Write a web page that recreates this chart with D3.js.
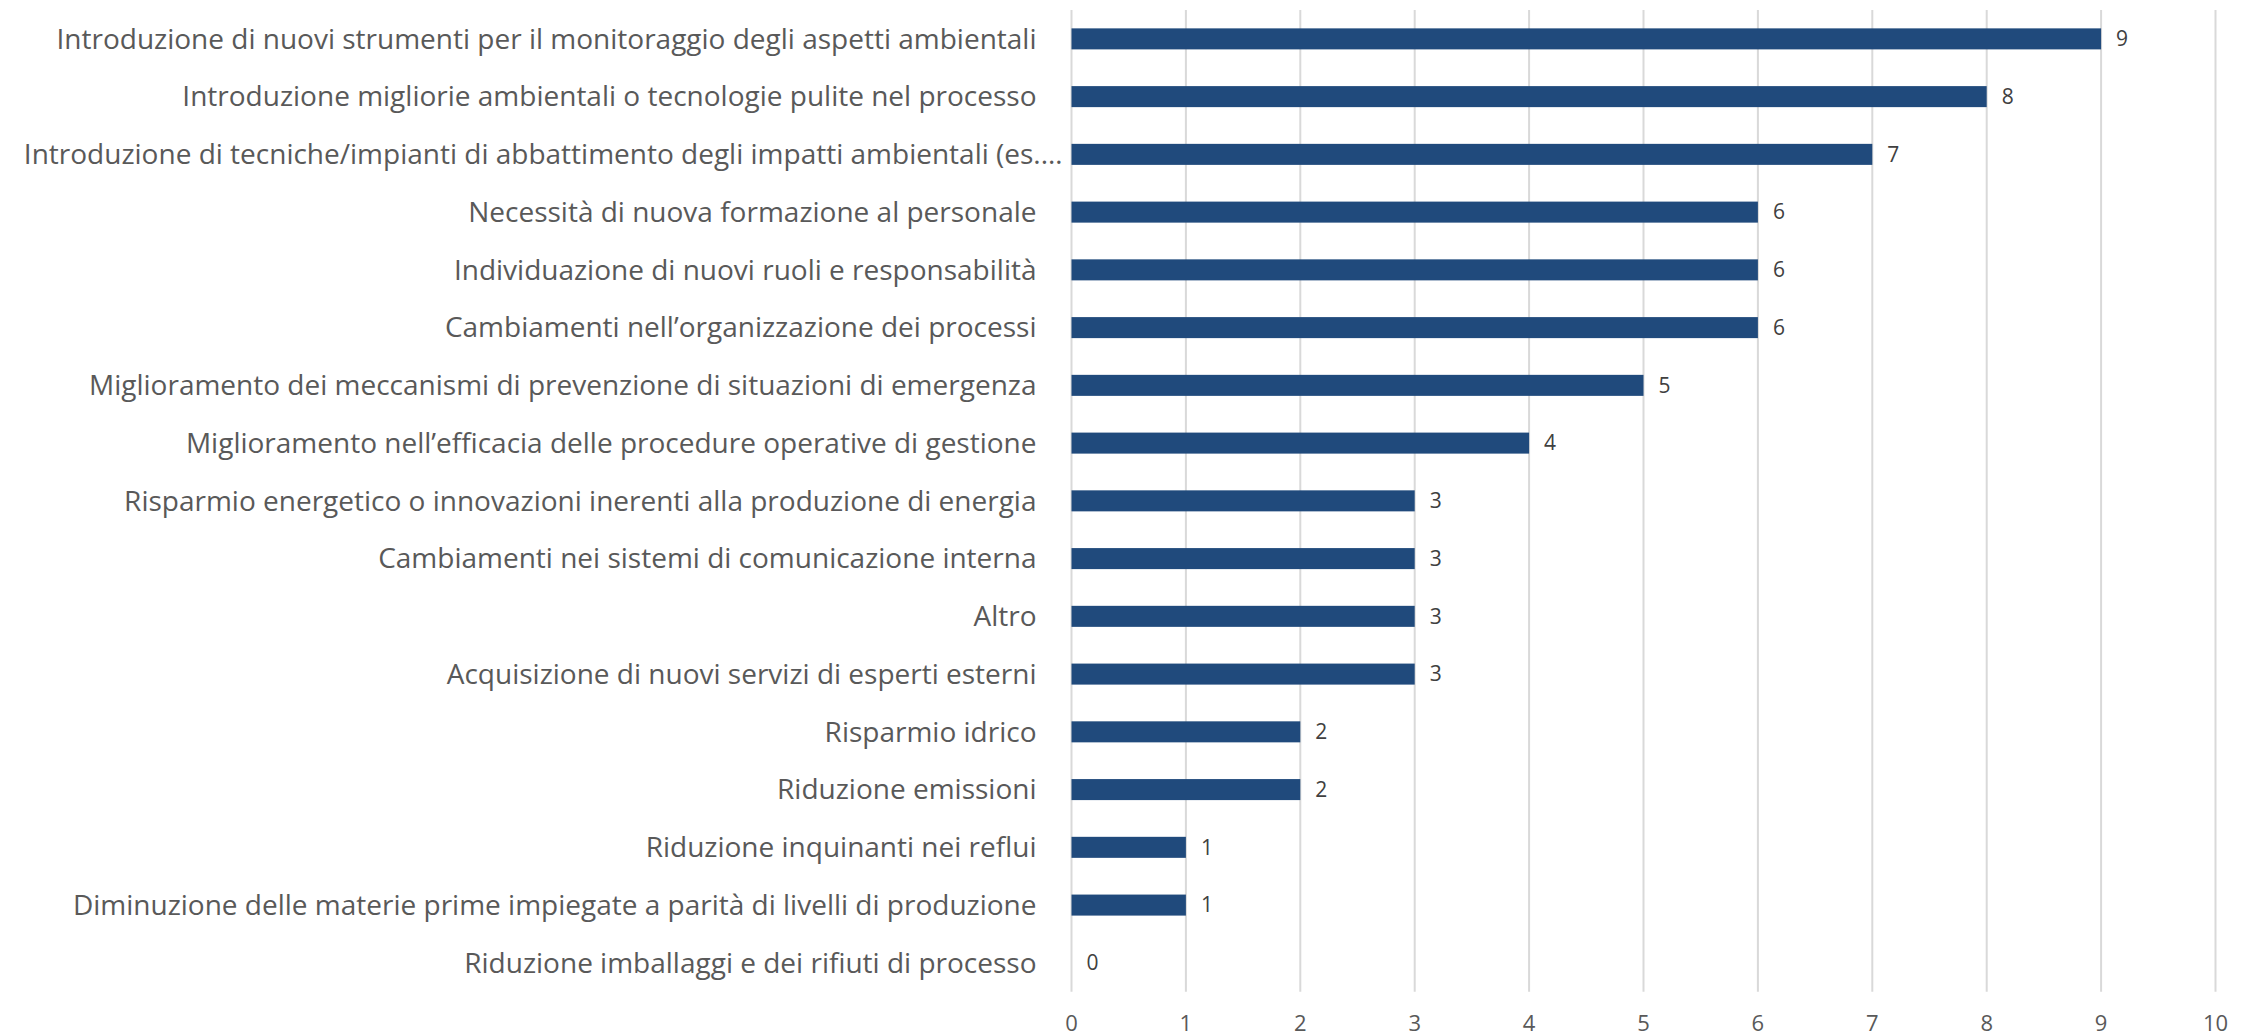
<!DOCTYPE html>
<html>
<head>
<meta charset="utf-8">
<script src="https://cdn.jsdelivr.net/npm/d3@7"></script>
<style>
  body { margin: 0; background: #fff; }
  svg { display: block; font-family: "Open Sans", sans-serif; }
  .grid line { stroke: #d9d9d9; stroke-width: 2; }
  .cat { fill: #595959; font-size: 28px; }
  .tick-lbl { fill: #595959; font-size: 22px; }
  .val { fill: #404040; font-size: 21px; }
</style>
</head>
<body>
<svg id="chart" width="2249" height="1036"></svg>
<script>
// categories, top to bottom
const categories = [
  "Introduzione di nuovi strumenti per il monitoraggio degli aspetti ambientali",
  "Introduzione migliorie ambientali o tecnologie pulite nel processo",
  "Introduzione di tecniche/impianti di abbattimento degli impatti ambientali (es.…",
  "Necessità di nuova formazione al personale",
  "Individuazione di nuovi ruoli e responsabilità",
  "Cambiamenti nell’organizzazione dei processi",
  "Miglioramento dei meccanismi di prevenzione di situazioni di emergenza",
  "Miglioramento nell’efficacia delle procedure operative di gestione",
  "Risparmio energetico o innovazioni inerenti alla produzione di energia",
  "Cambiamenti nei sistemi di comunicazione interna",
  "Altro",
  "Acquisizione di nuovi servizi di esperti esterni",
  "Risparmio idrico",
  "Riduzione emissioni",
  "Riduzione inquinanti nei reflui",
  "Diminuzione delle materie prime impiegate a parità di livelli di produzione",
  "Riduzione imballaggi e dei rifiuti di processo"
];
const values = [9, 8, 7, 6, 6, 6, 5, 4, 3, 3, 3, 3, 2, 2, 1, 1, 0];
const xTicks = [0, 1, 2, 3, 4, 5, 6, 7, 8, 9, 10];

const svg = d3.select('#chart'),
      mLeft = 1071.5, mRight = 2215.5, mTop = 10, mBottom = 991.7;

const x = d3.scaleLinear().domain([0, 10]).range([mLeft, mRight]);
const y = d3.scaleBand().domain(categories).range([mTop, mBottom])
    .paddingInner(0.636).paddingOuter(0.318);

// vertical gridlines
svg.append('g').attr('class', 'grid')
  .selectAll('line').data(xTicks).join('line')
    .attr('x1', d => x(d)).attr('x2', d => x(d))
    .attr('y1', mTop).attr('y2', mBottom);

// bars
svg.append('g').selectAll('rect').data(values).join('rect')
    .attr('x', x(0))
    .attr('y', (d, i) => y(categories[i]))
    .attr('width', d => x(d) - x(0))
    .attr('height', y.bandwidth())
    .attr('fill', '#204a7c');

// value labels
svg.append('g').selectAll('text').data(values).join('text')
    .attr('class', 'val')
    .attr('x', d => x(d) + 15)
    .attr('y', (d, i) => y(categories[i]) + y.bandwidth() / 2)
    .attr('dy', '0.35em')
    .text(d => d);

// category labels (the truncated one spills a bit past the label box, like Excel)
svg.append('g').selectAll('text').data(categories).join('text')
    .attr('class', 'cat')
    .attr('x', d => mLeft - (d.endsWith('…') ? 9 : 35))
    .attr('y', d => y(d) + y.bandwidth() / 2)
    .attr('dy', '0.35em')
    .attr('text-anchor', 'end')
    .text(d => d);

// x axis tick labels
svg.append('g').selectAll('text').data(xTicks).join('text')
    .attr('class', 'tick-lbl')
    .attr('x', d => x(d))
    .attr('y', 1023)
    .attr('dy', '0.35em')
    .attr('text-anchor', 'middle')
    .text(d => d);
</script>
</body>
</html>
